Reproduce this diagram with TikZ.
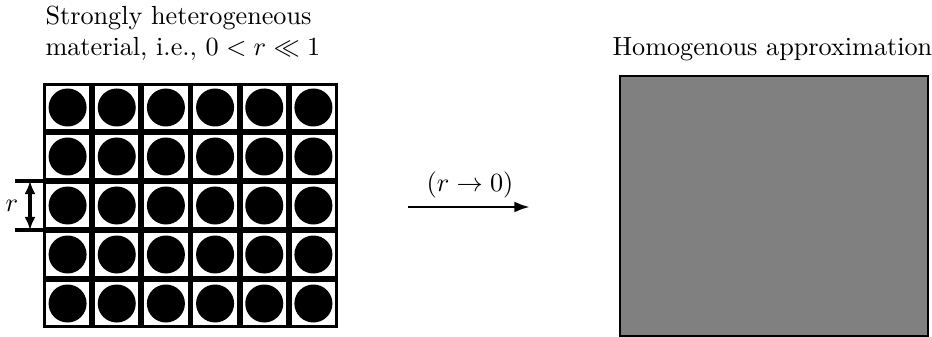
\documentclass[tikz,border=0pt]{standalone}
\usetikzlibrary{arrows.meta}
\begin{document}
\begin{tikzpicture}[x=0.3817pt,y=-0.3817pt,
  lbl/.style={inner sep=0pt,anchor=base west},
  dimline/.style={line width=1.15pt},
  mainarrow/.style={line width=1.1pt,-{Latex[length=6pt,width=4.2pt]}}]
\useasboundingbox (0,0) rectangle (932,337);
% titles
\node[lbl] (t1) at (45,24.5) {Strongly heterogeneous};
\node[lbl] (t2) at (45,55.5) {material, i.e., $0<r\ll 1$};
\node[lbl] (t3) at (612,55.5) {Homogenous approximation};
% heterogeneous grid
\fill[black] (43,83) rectangle (338,328);
\foreach \i in {0,...,5}{
  \foreach \j in {0,...,4}{
    \pgfmathsetmacro{\xa}{43+\i*49.167}
    \pgfmathsetmacro{\ya}{83+\j*49}
    \fill[white] (\xa+2.85,\ya+2.85) rectangle (\xa+49.167-2.85,\ya+49-2.85);
    \fill[black] (\xa+24.58,\ya+24.5) circle[radius=19];
  }
}
% r dimension
\coordinate (ra) at (30,181);
\coordinate (rb) at (30,230);
\draw[dimline] (15,181) -- (43,181);
\draw[dimline] (15,230) -- (43,230);
\draw[dimline,{Latex[length=5pt,width=4.2pt]}-{Latex[length=5pt,width=4.2pt]}] (ra) -- (rb);
\node (rl) at (12,206) {$r$};
% limit arrow
\coordinate (aa) at (408,207);
\coordinate (ab) at (530,207);
\draw[mainarrow] (aa) -- (ab);
\node (al) at (470,185) {$(r\to 0)$};
% homogeneous square
\draw[fill={rgb,255:red,128;green,128;blue,128},line width=0.6pt] (620,76) rectangle (928,336);
\end{tikzpicture}
\end{document}
